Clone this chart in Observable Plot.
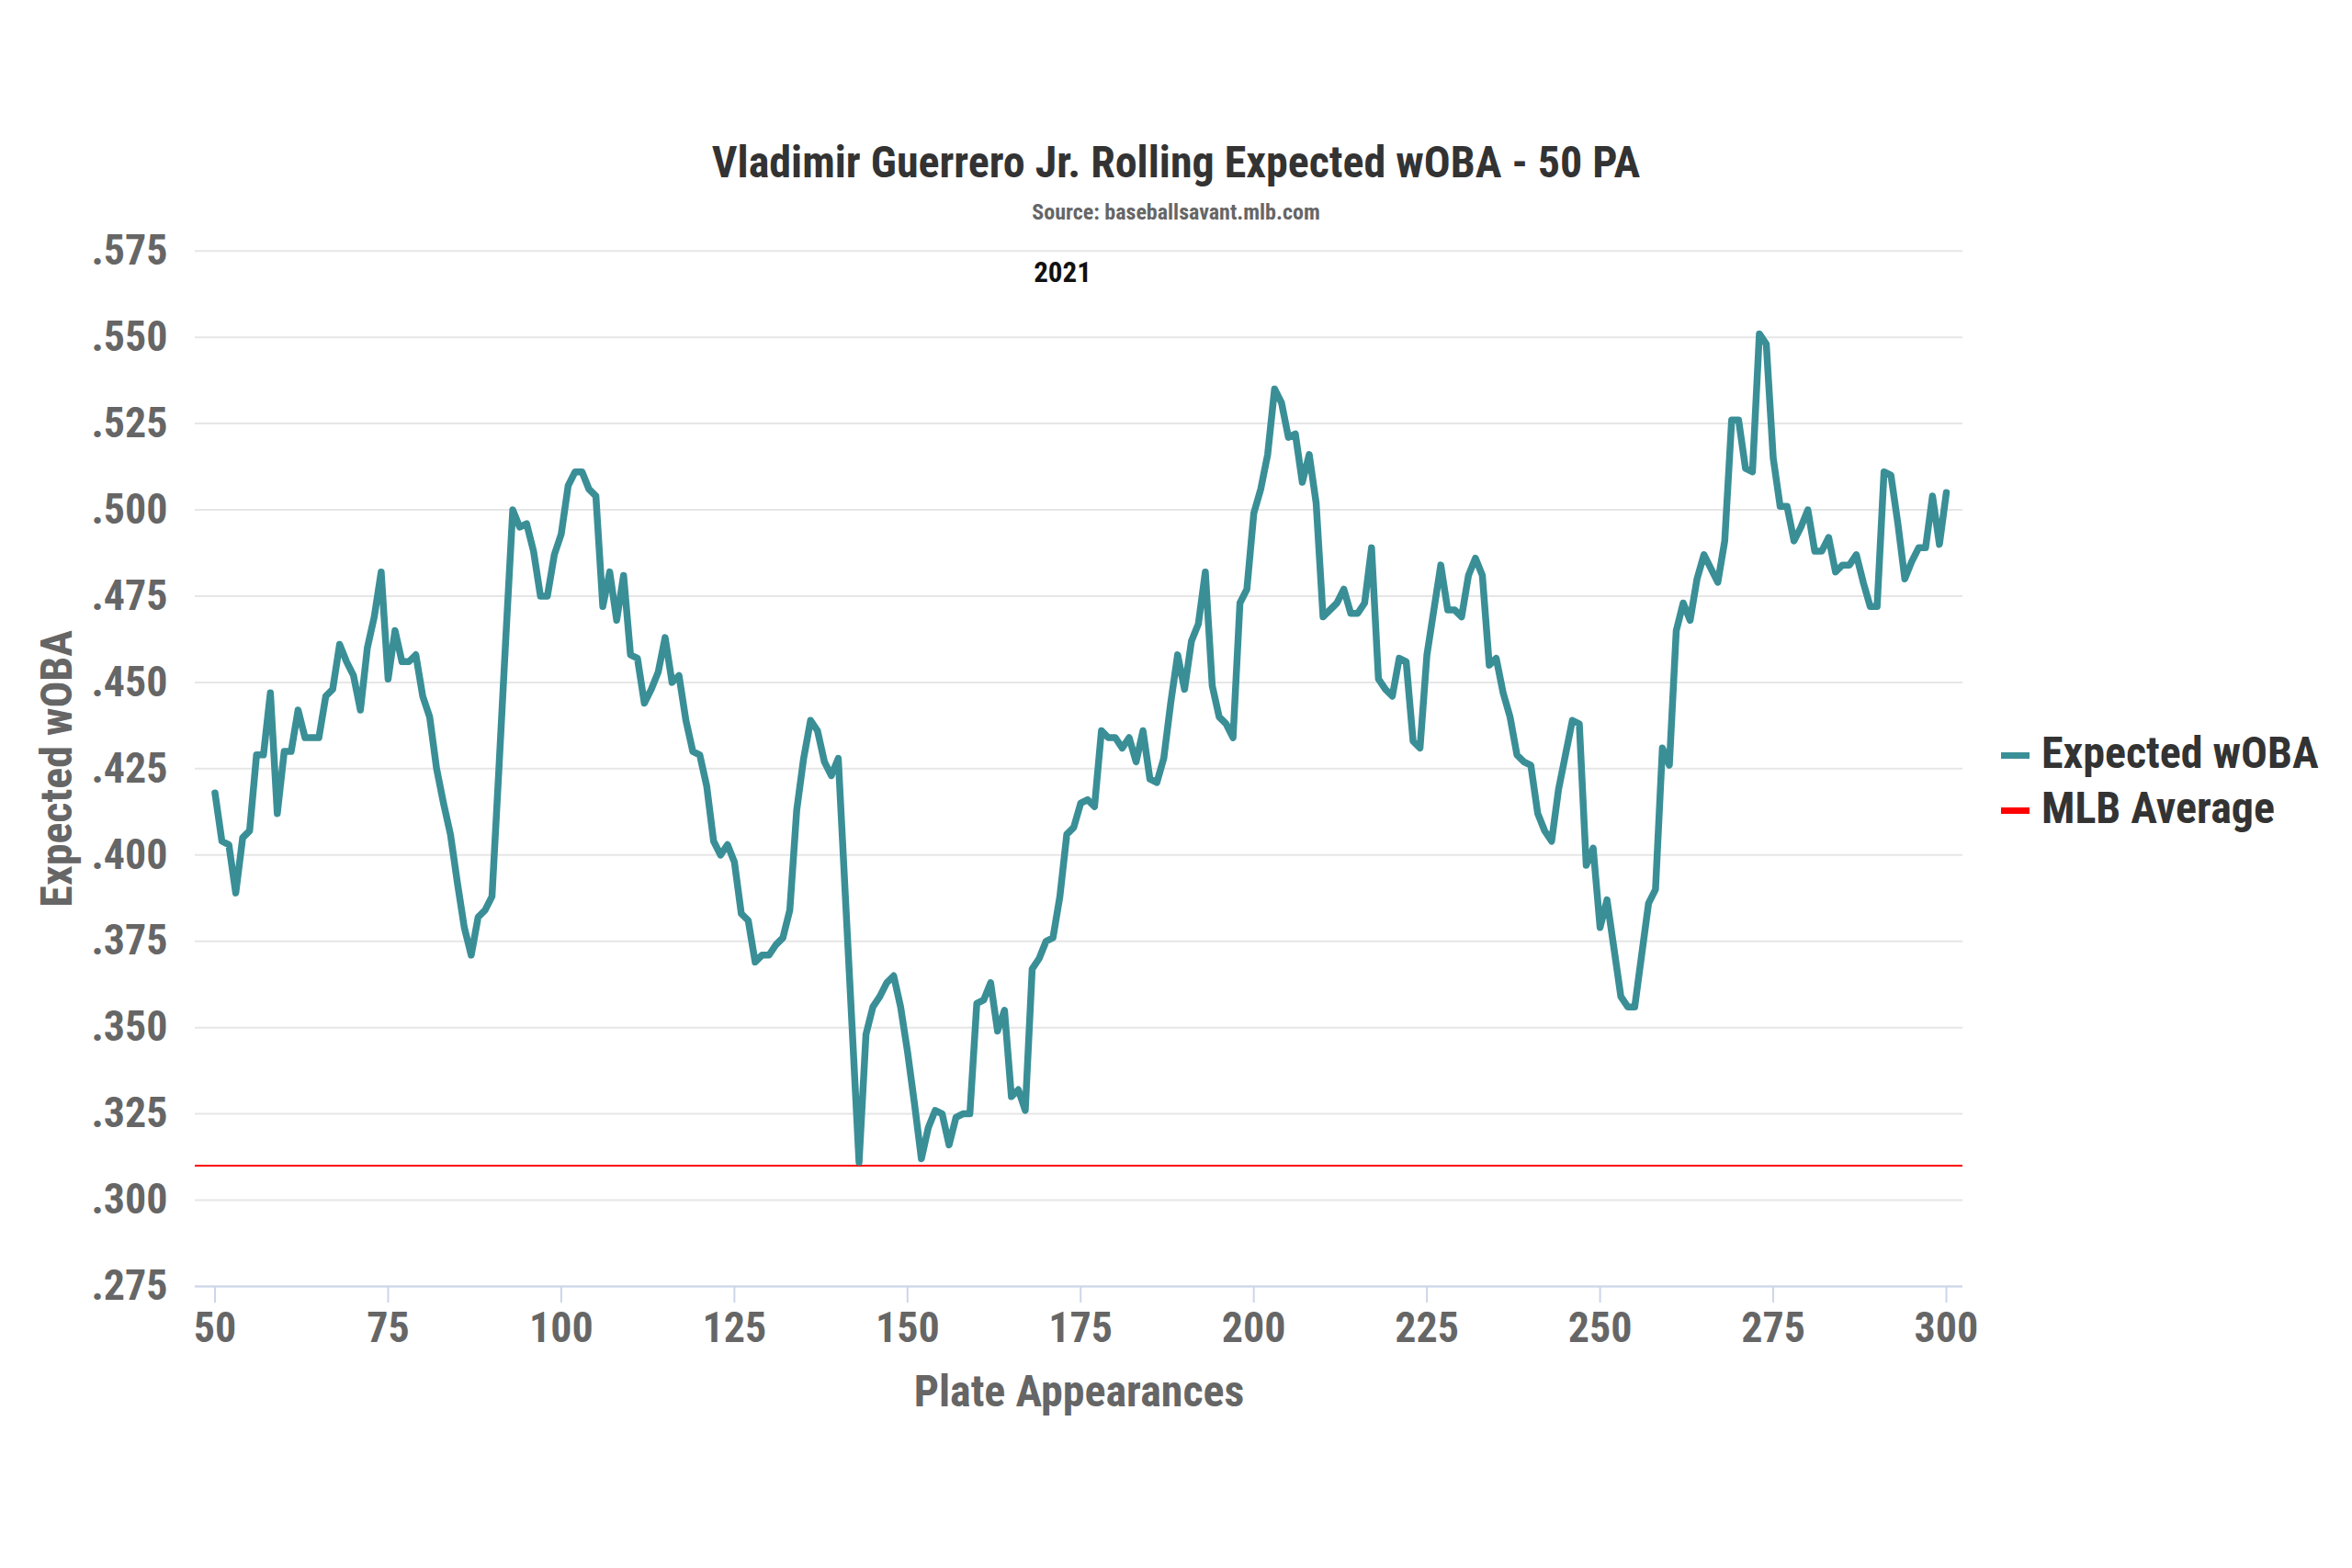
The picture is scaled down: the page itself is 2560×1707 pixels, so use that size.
<!DOCTYPE html>
<html>
<head>
<meta charset="utf-8">
<script src="https://cdn.jsdelivr.net/npm/d3@7"></script>
<script src="https://cdn.jsdelivr.net/npm/@observablehq/plot@0.6"></script>
<style>
  html, body { margin: 0; padding: 0; background: #fff; }
  body { width: 2560px; height: 1707px; position: relative; overflow: hidden;
         font-family: "Roboto Condensed", "Liberation Sans Narrow", "Arial Narrow", "DejaVu Sans Condensed", sans-serif;
         font-stretch: condensed; }
  .title { position: absolute; z-index: 2; left: 0; width: 2560px; text-align: center; top: 153px;
           font-size: 48px; line-height: 48px; font-weight: 700; color: #333; }
  .subtitle { position: absolute; z-index: 2; left: 0; width: 2560px; text-align: center; top: 219px;
              font-size: 24px; line-height: 24px; font-weight: 700; color: #666; }
  #chart { position: absolute; z-index: 1; left: 0; top: 240px; }
  #chart svg { background: transparent; }
  #chart svg text { font-family: "Roboto Condensed", "Liberation Sans Narrow", "Arial Narrow", "DejaVu Sans Condensed", sans-serif; font-stretch: condensed; font-weight: 700; }
  .legend { position: absolute; z-index: 2; left: 2178px; top: 796px; }
  .legend .item { position: relative; height: 60px; font-size: 48px; line-height: 48px; font-weight: 700; color: #333; padding-left: 44px; white-space: nowrap; }
  .legend .sw { position: absolute; left: 0; top: 23px; width: 31px; height: 7px; }
</style>
</head>
<body>
<div class="title">Vladimir Guerrero Jr. Rolling Expected wOBA - 50 PA</div>
<div class="subtitle">Source: baseballsavant.mlb.com</div>
<div id="chart"></div>
<div class="legend" id="legend"></div>
<script>
// ---- data ----
const seasonLabel = "2021";
const firstPA = 50;
const xwoba = [
  .418,.404,.403,.389,.405,.407,.429,.429,.447,.412,
  .430,.430,.442,.434,.434,.434,.446,.448,.461,.456,
  .452,.442,.460,.469,.482,.451,.465,.456,.456,.458,
  .446,.440,.425,.415,.406,.392,.379,.371,.382,.384,
  .388,.425,.463,.500,.495,.496,.488,.475,.475,.487,
  .493,.507,.511,.511,.506,.504,.472,.482,.468,.481,
  .458,.457,.444,.448,.453,.463,.450,.452,.439,.430,
  .429,.420,.404,.400,.403,.398,.383,.381,.369,.371,
  .371,.374,.376,.384,.413,.428,.439,.436,.427,.423,
  .428,.389,.350,.311,.348,.356,.359,.363,.365,.356,
  .343,.328,.312,.321,.326,.325,.316,.324,.325,.325,
  .357,.358,.363,.349,.355,.330,.332,.326,.367,.370,
  .375,.376,.388,.406,.408,.415,.416,.414,.436,.434,
  .434,.431,.434,.427,.436,.422,.421,.428,.444,.458,
  .448,.462,.467,.482,.449,.440,.438,.434,.473,.477,
  .499,.506,.516,.535,.531,.521,.522,.508,.516,.502,
  .469,.471,.473,.477,.470,.470,.473,.489,.451,.448,
  .446,.457,.456,.433,.431,.458,.471,.484,.471,.471,
  .469,.481,.486,.481,.455,.457,.447,.440,.429,.427,
  .426,.412,.407,.404,.419,.429,.439,.438,.397,.402,
  .379,.387,.373,.359,.356,.356,.371,.386,.390,.431,
  .426,.465,.473,.468,.480,.487,.483,.479,.491,.526,
  .526,.512,.511,.551,.548,.515,.501,.501,.491,.495,
  .500,.488,.488,.492,.482,.484,.484,.487,.479,.472,
  .472,.511,.510,.496,.480,.485,.489,.489,.504,.490,
  .505
];
const mlbAverage = 0.310;
const xTicks = [50, 75, 100, 125, 150, 175, 200, 225, 250, 275, 300];
const yTicks = [0.275, 0.300, 0.325, 0.350, 0.375, 0.400, 0.425, 0.450, 0.475, 0.500, 0.525, 0.550, 0.575];
const seriesNames = ["Expected wOBA", "MLB Average"];
const seriesColors = ["#3a8f97", "#ff0000"];

const rows = xwoba.map((v, i) => ({pa: firstPA + i, xwoba: v}));
const fmt = d => d3.format(".3f")(d).replace(/^0/, "");

const chart = Plot.plot({
  width: 2560,
  height: 1360,
  marginLeft: 212,
  marginRight: 424,
  marginTop: 32.7,
  marginBottom: 200,
  style: {background: "transparent"},
  x: {domain: [47.15, 302.39]},
  y: {domain: [0.275, 0.575]},
  marks: [
    Plot.gridY(yTicks, {stroke: "#e6e6e6", strokeOpacity: 1, strokeWidth: 2}),
    Plot.ruleY([0.275], {stroke: "#ccd6eb", strokeWidth: 2}),
    Plot.axisY(yTicks, {tickSize: 0, tickPadding: 30, tickFormat: fmt, fontSize: 46, fill: "#666", label: null}),
    Plot.axisX(xTicks, {tickSize: 18, tickPadding: 10, stroke: "#ccd6eb", strokeWidth: 2, fill: "#666", fontSize: 46, label: null}),
    Plot.ruleY([mlbAverage], {stroke: seriesColors[1], strokeWidth: 2}),
    Plot.line(rows, {x: "pa", y: "xwoba", stroke: seriesColors[0], strokeWidth: 7.5, strokeLinejoin: "round", strokeLinecap: "round"}),
    Plot.text([seasonLabel], {frameAnchor: "top", dx: -18, dy: 12, lineAnchor: "top", fontSize: 31, fill: "#111"}),
    Plot.text(["Expected wOBA"], {frameAnchor: "left", dx: -150, rotate: -90, textAnchor: "middle", lineAnchor: "middle", fontSize: 48, fill: "#666"}),
    Plot.text(["Plate Appearances"], {frameAnchor: "bottom", dy: 115, textAnchor: "middle", lineAnchor: "middle", fontSize: 48, fill: "#666"})
  ]
});
document.getElementById("chart").appendChild(chart);

const legend = document.getElementById("legend");
seriesNames.forEach((name, i) => {
  const item = document.createElement("div");
  item.className = "item";
  const sw = document.createElement("span");
  sw.className = "sw";
  sw.style.background = seriesColors[i];
  item.appendChild(sw);
  item.appendChild(document.createTextNode(name));
  legend.appendChild(item);
});
</script>
</body>
</html>
